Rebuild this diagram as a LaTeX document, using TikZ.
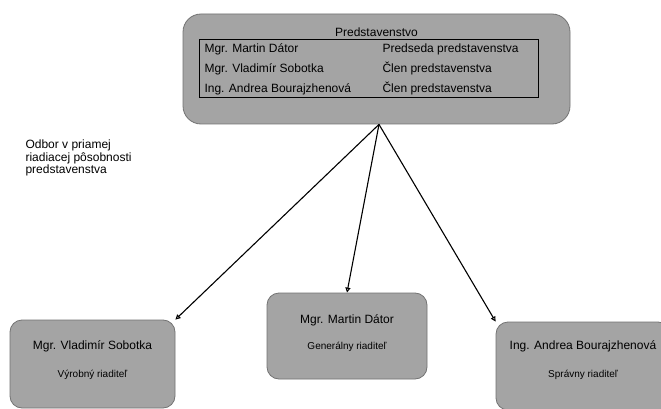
\documentclass[tikz,border=0pt]{standalone}
\usepackage{fontspec}
\setmainfont{Liberation Sans}
\usetikzlibrary{arrows.meta}
\definecolor{boardgray}{RGB}{164,164,164}
\definecolor{edgegray}{RGB}{115,115,115}
\begin{document}
\begin{tikzpicture}[
			x=1pt, y=-1pt,
			box/.style={rectangle,draw=edgegray,fill=boardgray,rounded corners=12pt,line width=0.8pt},
			duty/.style={font=\fontsize{12}{14}\selectfont},
			post/.style={font=\fontsize{10}{12}\selectfont},
			link/.style={-{Triangle[open,length=5pt,width=5pt]},line width=1.1pt}
		]
		\useasboundingbox[fill=white] (0,0) rectangle (661,409);
		\clip (0,0) rectangle (661,409);
		\node[box,rounded corners=18pt,minimum width=387,minimum height=110] (board) at (376.5,69) {};
		\node[duty] (title) at (376.5,32) {Predstavenstvo};
		\node[rectangle,draw,line width=0.8pt,minimum width=339,minimum height=58] (roster) at (368.5,68) {};
		\foreach \who/\role [count=\i] in {Mgr. Martin Dátor/Predseda predstavenstva,
				Mgr. Vladimír Sobotka/Člen predstavenstva,
				Ing. Andrea Bourajzhenová/Člen predstavenstva} {
				\node[duty,anchor=west] (who\i) at (201,29+20*\i) {\who};
				\node[duty,anchor=west] (role\i) at (379,29+20*\i) {\role};
			}
		\node[align=left,anchor=west,font=\fontsize{12}{11}\selectfont] (note) at (22,158)
		{Odbor v priamej\\riadiacej pôsobnosti\\predstavenstva};
		% bottom row
		\node[box,minimum width=165,minimum height=88] (prod) at (92.5,364) {};
		\node[duty] (prodname) at ([yshift=-27pt]prod.north) {Mgr. Vladimír Sobotka};
		\node[post] (prodrole) at ([yshift=-55pt]prod.north) {Výrobný riaditeľ};
		\node[box,minimum width=160,minimum height=86] (gen) at (347,336) {};
		\node[duty] (genname) at ([yshift=-28pt]gen.north) {Mgr. Martin Dátor};
		\node[post] (genrole) at ([yshift=-54pt]gen.north) {Generálny riaditeľ};
		\node[box,minimum width=174,minimum height=88] (trade) at (583,366) {};
		\node[duty] (tradename) at ([yshift=-25pt]trade.north) {Ing. Andrea Bourajzhenová};
		\node[post] (traderole) at ([yshift=-53pt]trade.north) {Správny riaditeľ};
		\coordinate (hub) at ([xshift=2.5pt]board.south);
		\draw[link] (hub) -- (prod.north east);
		\draw[link] (hub) -- (gen.north);
		\draw[link] (hub) -- (trade.north west);
	\end{tikzpicture}
\end{document}
